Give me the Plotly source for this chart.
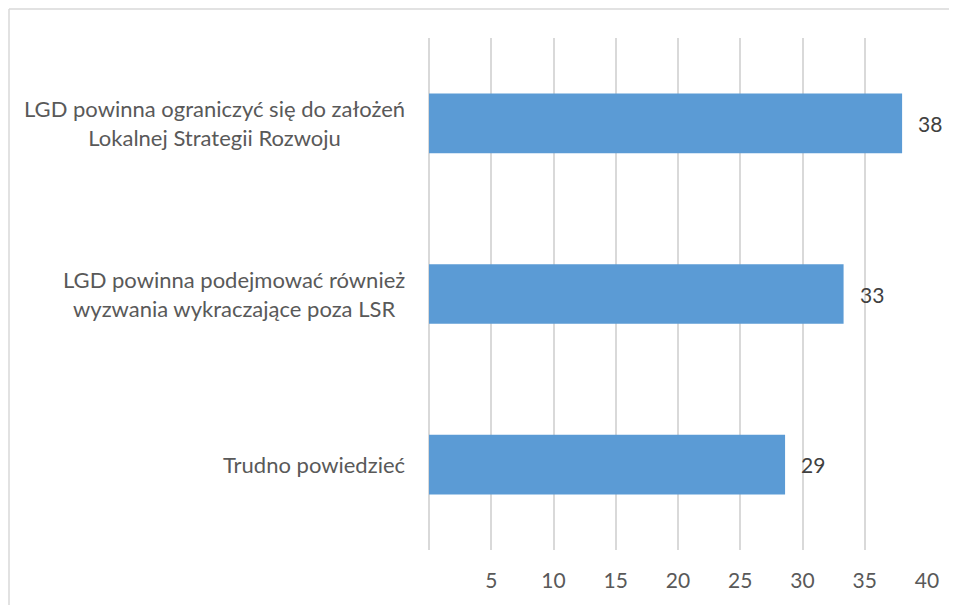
import plotly.graph_objects as go

# data
categories = [
    "LGD powinna ograniczyć się do założeń<br>Lokalnej Strategii Rozwoju",
    "LGD powinna podejmować również<br>wyzwania wykraczające poza LSR",
    "Trudno powiedzieć",
]
values = [38.0, 33.3, 28.6]
value_labels = ["38", "33", "29"]
tick_vals = [5, 10, 15, 20, 25, 30, 35, 40]

# page body has an 8px margin, so the figure is drawn that much smaller
OFF = 8
W, H = 957 - OFF, 605 - OFF
ML, MR, MT, MB = 429 - OFF, 30, 38 - OFF, 55
pw, ph = W - ML - MR, H - MT - MB

FONT = "Lato"
GRID = "#d9d9d9"

fig = go.Figure()
fig.add_trace(
    go.Bar(
        y=categories,
        x=values,
        orientation="h",
        marker=dict(color="#5b9bd5", line=dict(width=0)),
        hoverinfo="skip",
    )
)

# value labels to the right of each bar
for cat, v, lab in zip(categories, values, value_labels):
    fig.add_annotation(
        x=v, y=cat, text=lab, showarrow=False, xanchor="left", xshift=14,
        font=dict(family=FONT, size=21, color="#404040"),
    )

# category labels (centered lines, right anchored)
for cat in categories:
    fig.add_annotation(
        x=0, xref="paper", y=cat, text=cat, showarrow=False,
        xanchor="right", xshift=-22, align="center",
        font=dict(family=FONT, size=22, color="#595959"),
    )

# chart border (left and top visible only)
x0 = (9 - OFF - ML) / pw
y0 = 1 + (MT - (9 - OFF)) / ph
fig.add_shape(type="line", xref="paper", yref="paper", x0=x0, x1=x0, y0=y0, y1=-0.2,
              line=dict(color=GRID, width=1.5))
fig.add_shape(type="line", xref="paper", yref="paper", x0=x0, x1=1.2, y0=y0, y1=y0,
              line=dict(color=GRID, width=1.5))

fig.update_xaxes(
    range=[0, 40], tickvals=tick_vals, showgrid=True, gridcolor=GRID, gridwidth=1.5,
    zeroline=True, zerolinecolor=GRID, zerolinewidth=1.5, showline=False,
    ticklabelstandoff=16,
    tickfont=dict(family=FONT, size=21, color="#595959"),
)
fig.update_yaxes(
    autorange="reversed", showticklabels=False, showgrid=False, zeroline=False,
)
fig.update_layout(
    width=W, height=H,
    margin=dict(l=ML, r=MR, t=MT, b=MB),
    bargap=0.65,
    showlegend=False,
    plot_bgcolor="white", paper_bgcolor="white",
)

fig.write_html("out.html")
